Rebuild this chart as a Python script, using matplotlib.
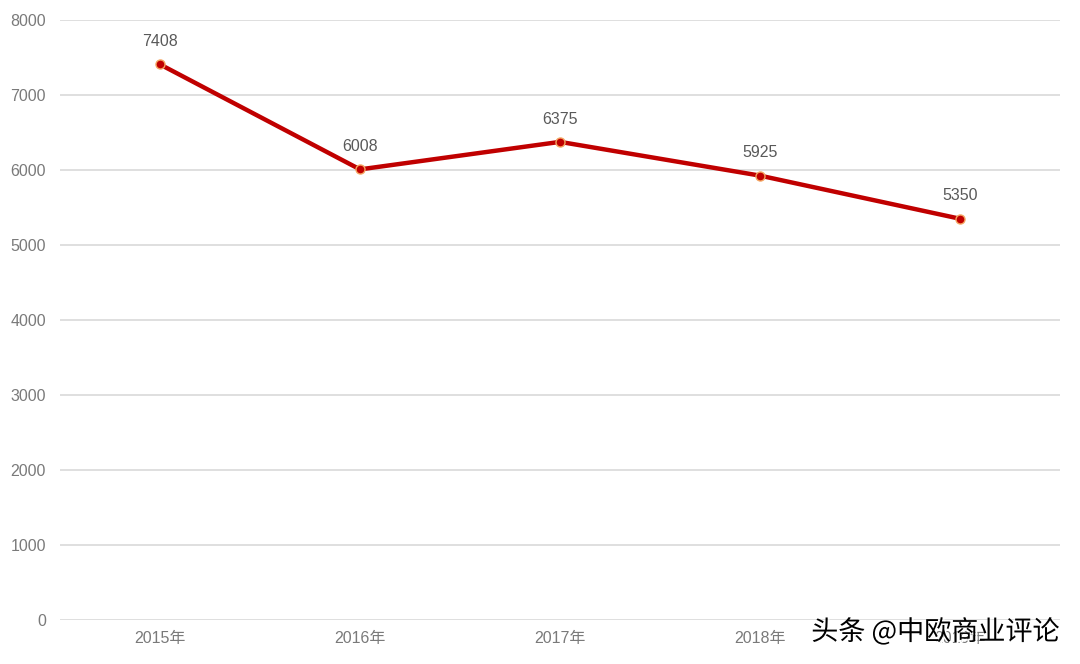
import matplotlib
matplotlib.use('Agg')
import matplotlib.pyplot as plt
import matplotlib.patheffects as pe

plt.rcParams['font.family'] = ['Liberation Sans', 'Noto Sans CJK SC', 'DejaVu Sans']

years = ['2015年', '2016年', '2017年', '2018年', '2019年']
values = [7408, 6008, 6375, 5925, 5350]
yticks = [0, 1000, 2000, 3000, 4000, 5000, 6000, 7000, 8000]

line_color = '#C00000'
label_gray = '#595959'
tick_gray = '#7a7a7a'
grid_gray = '#D9D9D9'

fig = plt.figure(figsize=(10.8, 6.64), dpi=100)
ax = fig.add_axes([60 / 1080, 44 / 664, 1000 / 1080, 600 / 664])

x = list(range(len(years)))
ax.plot(x, values, color=line_color, linewidth=3.2, marker='o', markersize=6.5,
        markerfacecolor=line_color, markeredgecolor='#F4A460', markeredgewidth=1.0,
        solid_capstyle='round', zorder=3)

for xi, v in zip(x, values):
    ax.annotate(str(v), (xi, v), xytext=(0, 11), textcoords='offset points',
                ha='center', va='bottom', fontsize=11.5, color=label_gray)

ax.set_xlim(-0.5, len(years) - 0.5)
ax.set_ylim(0, 8000)
ax.set_yticks(yticks)
ax.set_xticks(x)
ax.set_xticklabels(years)
ax.tick_params(axis='both', length=0, labelsize=11.5, labelcolor=tick_gray)
ax.tick_params(axis='y', pad=10)
ax.tick_params(axis='x', pad=8)
ax.grid(axis='y', color=grid_gray, linewidth=1.2)
ax.set_axisbelow(True)
for s in ax.spines.values():
    s.set_visible(False)

# watermark
fig.text(1060 / 1080, 32 / 664, '头条 @中欧商业评论', ha='right', va='center',
         fontsize=19.5, color='black', family=['Noto Sans CJK SC', 'DejaVu Sans'],
         path_effects=[pe.withSimplePatchShadow(offset=(1.5, -1.5), shadow_rgbFace='white', alpha=1)],
         zorder=10)

fig.savefig('out.png', dpi=100, facecolor='white')
